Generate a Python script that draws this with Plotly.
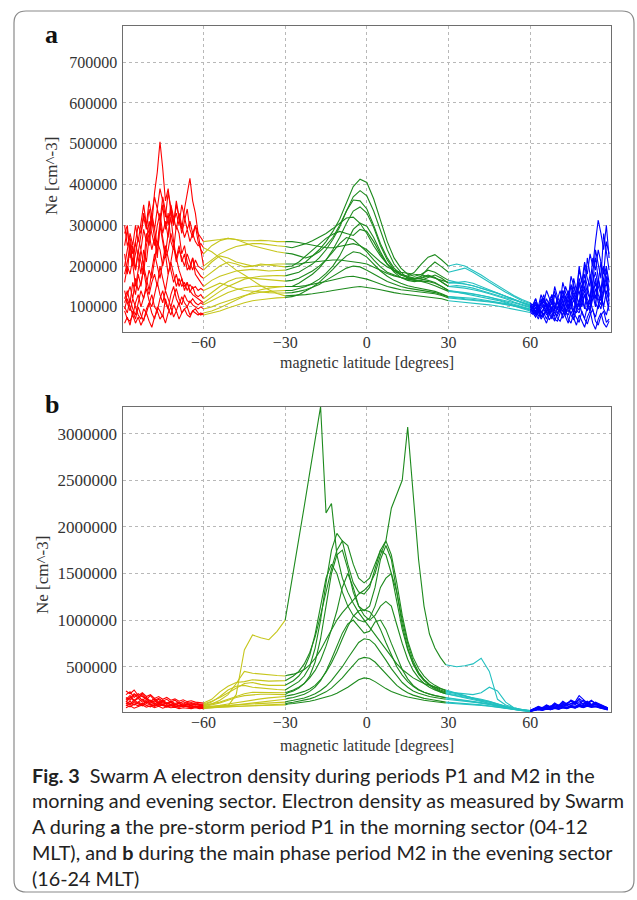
import plotly.graph_objects as go

# ---------------- Panel a (values in 1000 cm^-3) ----------------
A_LAT_S_POLAR = [-89, -88, -87, -86, -85, -84, -83, -82, -81, -80, -79, -78, -77, -76, -75,
                 -74, -73, -72, -71, -70, -69, -68, -67, -66, -65, -64, -63, -62, -61, -60]
A_LAT_S_MID = [-57, -54, -51, -48, -45, -42, -39, -36, -33, -30]
A_LAT_EQ = [-27.5, -25, -22.5, -20, -17.5, -15, -12.5, -10, -7.5, -5, -2.5, 0,
            2.5, 5, 7.5, 10, 12.5, 15, 17.5, 20, 22.5, 25, 27.5, 30]
A_LAT_N_MID = [33, 36, 39, 42, 45, 48, 51, 54, 57, 60]
A_LAT_N_POLAR = [61, 62, 63, 64, 65, 66, 67, 68, 69, 70, 71, 72, 73, 74, 75,
                 76, 77, 78, 79, 80, 81, 82, 83, 84, 85, 86, 87, 88, 89]

A_NE_S_POLAR = [
    [230,180,260,210,150,190,240,200,280,250,310,270,220,300,350,290,330,260,240,300,280,230,250,210,190,220,180,170,160,150],
    [100,85,120,95,80,110,140,120,160,190,170,220,260,240,200,230,180,210,250,220,190,170,150,160,140,130,125,120,115,110],
    [280,300,220,250,190,230,270,320,290,340,300,380,430,505,440,360,390,330,300,350,320,280,310,340,290,270,300,260,240,230],
    [60,75,55,90,70,100,80,65,95,110,85,70,100,90,75,120,95,80,105,90,110,85,95,100,80,90,95,85,80,85],
    [180,210,250,200,230,270,240,290,260,310,280,250,300,330,280,310,270,340,300,360,320,290,340,380,415,360,330,280,240,200],
    [140,110,90,120,100,80,70,95,85,110,130,100,90,120,140,110,95,130,150,120,105,125,110,100,115,105,100,95,100,95],
    [250,290,230,200,260,220,180,240,210,270,330,290,250,310,270,230,280,320,260,220,250,210,230,190,200,220,195,185,175,170],
    [120,140,110,160,130,180,150,200,170,140,190,230,200,170,210,250,220,190,160,180,150,170,140,160,135,150,130,125,130,120],
    [200,240,280,250,300,260,310,350,300,280,330,370,340,390,360,320,380,340,310,330,300,350,320,290,310,280,300,280,270,260],
    [90,70,65,80,60,75,55,70,85,65,50,75,90,70,80,60,85,100,75,90,70,85,95,80,75,90,85,80,85,80],
    [160,200,180,220,190,240,210,180,250,280,240,270,230,300,260,220,240,280,250,210,240,220,200,230,210,190,215,200,195,190],
    [110,130,150,120,170,140,160,190,150,130,160,180,150,200,170,140,180,210,180,150,170,150,160,140,155,145,150,140,145,140],
    [95,120,100,80,110,130,100,120,145,115,100,130,160,130,110,140,120,100,125,145,120,105,130,115,110,120,110,105,110,105],
    [300,250,270,230,260,300,280,330,300,360,320,290,340,310,370,330,300,350,320,290,330,300,270,290,260,280,260,250,255,245],
]
A_NE_S_MID = [
    [165,175,182,188,190,192,190,188,189,190],
    [125,138,150,160,168,172,175,176,177,176],
    [250,262,268,265,258,250,245,240,235,232],
    [90,98,108,118,128,136,142,146,148,150],
    [215,230,240,248,252,255,255,252,250,248],
    [100,108,115,122,128,132,136,138,139,140],
    [185,200,210,205,198,200,205,203,200,198],
    [135,150,162,170,172,170,168,166,165,163],
    [262,265,268,265,262,262,263,262,260,260],
    [85,90,97,104,110,115,118,120,122,123],
    [210,225,220,210,205,200,202,204,205,205],
    [150,158,152,145,140,138,136,135,134,134],
    [115,125,135,142,147,150,151,150,150,150],
    [235,220,205,190,178,165,152,142,133,127],
]
A_NE_EQ = [
    [195,200,210,225,240,260,285,315,355,395,413,405,365,310,260,220,195,180,175,180,190,185,175,165],
    [180,185,195,205,220,240,265,295,335,370,385,372,335,285,240,205,185,170,168,172,178,172,162,150],
    [230,225,220,225,235,250,270,300,335,362,360,340,300,255,220,195,180,172,168,170,176,172,160,150],
    [150,158,168,180,195,215,240,270,305,335,345,330,295,250,215,190,178,175,185,205,222,228,215,200],
    [245,250,255,262,270,280,292,305,318,320,305,280,250,225,205,190,180,175,170,168,165,160,150,140],
    [140,145,150,158,168,182,200,225,258,290,305,298,270,235,205,185,172,165,162,165,172,178,170,158],
    [200,210,225,240,255,268,278,285,280,275,290,285,260,230,205,188,178,172,170,175,195,210,198,185],
    [165,170,178,188,200,215,235,255,270,265,250,235,215,198,185,178,172,168,165,163,162,158,150,140],
    [260,258,255,252,248,245,245,248,252,255,250,240,225,210,198,190,185,182,180,178,175,170,165,160],
    [125,130,138,148,160,175,192,210,225,235,232,222,205,188,175,165,158,152,148,145,142,138,132,125],
    [205,205,208,210,212,213,215,215,213,210,208,205,198,190,182,176,172,168,165,162,158,152,145,138],
    [135,138,142,148,155,165,175,185,195,200,198,190,180,170,162,156,150,146,143,140,138,135,130,125],
    [150,150,152,155,158,162,166,170,174,175,172,168,162,156,150,146,142,140,138,136,134,132,128,122],
    [128,128,130,132,134,137,140,143,146,148,150,148,145,142,138,135,132,130,128,126,125,123,120,115],
]
A_NE_N_MID = [
    [160,156,152,146,140,134,126,118,110,102],
    [148,146,142,138,132,126,120,112,106,100],
    [152,150,146,140,134,128,122,116,110,105],
    [205,200,190,178,165,152,140,128,118,110],
    [138,135,132,128,124,118,112,106,100,95],
    [160,162,158,150,142,134,126,118,110,102],
    [190,195,185,172,160,148,136,125,115,108],
    [136,132,128,124,120,116,110,104,98,92],
    [158,156,152,146,140,133,126,118,111,105],
    [122,120,118,116,113,110,106,102,96,90],
    [136,134,131,128,124,120,115,110,104,98],
    [124,123,121,118,115,112,108,104,99,94],
    [120,119,117,115,112,109,106,102,98,94],
    [113,112,110,108,105,102,98,94,90,86],
]
A_NE_N_POLAR = [
    [95,110,88,120,100,85,105,130,95,115,140,110,90,125,150,120,100,160,130,180,150,120,190,220,170,140,200,160,130],
    [90,80,100,75,95,110,85,70,100,120,90,80,110,140,100,85,130,160,120,95,140,180,130,100,160,210,150,120,90],
    [100,120,95,110,130,100,90,115,140,110,95,120,150,130,105,170,140,190,160,210,180,230,200,260,313,280,240,300,220],
    [100,85,70,90,75,60,80,95,70,65,85,100,75,60,90,70,55,80,65,50,75,90,60,45,70,85,60,50,65],
    [90,100,85,110,95,120,105,90,130,115,100,140,125,110,155,135,120,170,145,200,170,150,220,190,240,210,180,260,230],
    [98,90,105,85,95,110,80,100,90,115,85,105,125,95,110,80,120,140,100,130,110,90,150,120,170,130,100,140,110],
    [105,120,100,130,110,140,120,105,150,125,110,160,135,120,175,150,130,200,160,140,220,180,150,240,200,170,280,230,190],
    [88,80,92,75,85,70,90,78,65,85,95,72,88,100,80,68,95,110,85,72,100,120,90,75,105,130,95,80,110],
    [100,112,96,108,122,100,115,130,108,95,120,140,115,102,130,150,125,110,145,165,135,120,160,185,150,130,170,200,160],
    [85,75,88,70,80,92,68,78,88,72,65,82,95,70,60,85,75,62,90,70,58,80,95,65,55,78,90,62,70],
    [95,105,90,100,115,95,108,120,100,92,112,128,105,95,118,135,110,100,125,150,120,105,140,170,130,115,150,190,140],
    [90,98,85,95,105,88,100,112,92,85,102,118,95,88,110,128,100,92,120,140,110,98,130,160,120,105,140,175,125],
    [92,85,100,88,80,95,105,85,78,98,110,88,80,102,120,92,85,115,135,100,90,125,150,110,95,140,170,120,100],
    [82,90,78,88,95,80,92,100,85,78,95,108,88,80,100,118,92,85,110,130,100,90,120,145,110,95,135,160,115],
]

# ---------------- Panel b (values in 1000 cm^-3) ----------------
B_LAT_S_POLAR = [-88.5, -87, -85.5, -84, -82.5, -81, -79.5, -78, -76.5, -75,
                 -73.5, -72, -70.5, -69, -67.5, -66, -64.5, -63, -61.5, -60]
B_LAT_S_MID = [-57, -54, -51, -48, -45, -42, -39, -36, -33, -30]
B_LAT_EQ = [-29, -27, -25, -23, -21, -19, -17, -15, -13, -11, -9, -7, -5, -3, -1,
            1, 3, 5, 7, 9, 11, 13, 15, 17, 19, 21, 23, 25, 27, 29]
B_LAT_N_MID = [33, 36, 39, 42, 45, 48, 51, 54, 57, 60]
B_LAT_N_POLAR = [61.5, 63, 64.5, 66, 67.5, 69, 70.5, 72, 73.5, 75,
                 76.5, 78, 79.5, 81, 82.5, 84, 85.5, 87, 88.5]

B_NE_S_POLAR = [
    [150,190,140,170,210,160,130,120,150,110,100,120,90,105,80,95,75,70,65,60],
    [120,160,210,180,140,170,130,150,110,130,100,115,95,110,85,100,90,95,85,80],
    [200,230,170,210,180,150,190,140,160,130,150,120,140,110,125,105,115,100,95,90],
    [100,130,90,120,150,110,140,100,120,95,110,85,100,80,90,75,85,70,75,70],
    [170,140,200,160,190,150,130,160,120,140,110,130,105,120,100,115,105,110,100,100],
    [80,110,90,120,100,130,95,110,85,100,80,90,75,85,70,80,65,70,65,60],
    [130,100,140,110,90,120,100,80,110,90,70,95,80,65,85,70,60,75,55,50],
    [90,70,100,80,110,85,70,95,75,90,70,80,65,85,70,75,65,80,70,70],
    [60,80,55,75,90,65,80,60,75,55,70,60,65,50,60,55,50,60,50,55],
    [110,90,120,100,80,105,90,75,95,80,70,85,75,65,80,70,60,70,60,65],
    [240,210,250,190,220,180,200,160,180,150,170,140,155,130,145,125,135,120,115,110],
    [140,170,130,160,120,145,110,135,100,125,95,115,90,105,85,100,90,95,85,85],
]
B_NE_S_MID = [
    [65,70,80,200,680,840,810,790,880,1000],
    [100,140,200,320,450,430,420,410,405,400],
    [120,180,250,290,300,280,270,260,255,250],
    [90,110,140,170,190,200,205,205,200,200],
    [130,170,220,270,320,330,310,300,300,300],
    [70,85,100,115,130,145,155,165,172,180],
    [60,70,80,92,105,115,125,135,142,150],
    [75,80,88,95,100,105,110,113,117,120],
    [60,65,70,75,80,85,90,94,97,100],
    [65,68,72,75,78,81,84,86,88,90],
    [150,230,290,330,340,360,350,345,348,350],
    [100,120,150,180,210,225,225,220,220,220],
]
B_NE_EQ = [
    [1170,1520,1870,2220,2580,2950,3290,2150,2250,1700,1450,1300,1180,1080,1000,930,850,760,680,600,530,470,420,380,350,320,300,280,265,250],
    [410,420,440,470,520,590,680,790,900,1000,1080,1150,1220,1280,1320,1380,1500,1700,1850,2200,2350,2500,3070,2400,1650,1150,850,700,600,520],
    [270,300,340,400,500,700,1000,1400,1750,1930,1850,1600,1400,1300,1280,1350,1550,1750,1850,1700,1400,1050,780,600,480,400,340,300,270,240],
    [220,240,270,320,400,550,800,1150,1500,1700,1750,1550,1300,1150,1100,1150,1350,1650,1800,1650,1300,950,700,530,420,350,300,260,230,210],
    [320,350,400,480,620,850,1150,1450,1600,1500,1300,1150,1050,1000,980,1020,1150,1350,1450,1500,1300,1000,750,560,440,360,310,270,240,220],
    [190,200,215,235,260,300,360,440,540,660,800,930,1040,1100,1110,1090,1020,900,760,620,500,410,340,290,250,225,205,190,180,170],
    [160,170,185,205,235,280,350,450,580,720,860,960,1000,930,860,880,980,1000,900,750,600,470,370,300,255,225,205,190,175,165],
    [130,140,150,165,185,210,245,290,350,420,500,590,680,760,800,790,740,660,570,480,400,330,280,240,215,195,180,170,160,150],
    [110,118,128,140,155,175,200,230,270,320,380,450,520,580,600,590,550,490,420,360,300,255,220,195,175,160,150,140,130,120],
    [100,105,112,120,130,142,156,172,192,215,245,280,320,360,380,370,340,300,265,235,210,190,175,162,150,140,132,125,118,110],
    [370,400,450,530,650,820,1050,1300,1550,1750,1850,1800,1600,1450,1400,1450,1600,1750,1700,1500,1200,900,680,530,430,360,310,280,250,230],
    [230,250,280,320,380,460,570,720,900,1100,1350,1500,1350,1150,1050,1000,1050,1150,1200,1150,950,750,580,460,380,320,280,250,230,210],
]
B_NE_N_MID = [
    [220,190,160,130,100,75,55,40,30,25],
    [500,510,530,590,450,150,90,60,40,30],
    [210,185,160,140,120,95,70,50,35,28],
    [185,165,150,135,115,90,65,45,32,25],
    [200,180,165,150,130,105,75,50,35,28],
    [155,140,128,115,100,82,62,45,32,25],
    [150,138,125,112,98,80,60,42,30,22],
    [140,130,120,108,95,78,58,40,28,22],
    [112,105,98,90,80,68,52,38,28,22],
    [104,98,92,85,76,64,50,36,27,20],
    [215,205,200,220,280,240,120,60,40,30],
    [190,175,160,145,125,100,72,50,35,27],
]
B_NE_N_POLAR = [
    [40,60,45,70,55,80,65,90,110,130,100,150,90,120,80,100,70,60,40],
    [50,40,65,50,80,60,90,75,100,85,120,95,140,110,90,120,100,80,60],
    [45,65,50,75,60,95,70,110,85,100,120,90,105,130,95,115,85,70,50],
    [35,50,40,55,45,65,50,70,60,80,65,90,75,95,80,100,70,55,45],
    [50,70,55,85,65,100,80,120,95,140,110,160,125,100,130,110,90,75,60],
    [40,55,45,60,50,70,60,80,65,85,75,95,80,105,85,95,75,60,50],
    [35,45,38,55,45,60,50,70,58,75,62,85,70,90,75,80,65,55,40],
    [30,40,35,48,40,55,45,62,52,70,58,75,62,80,68,72,60,50,38],
    [32,45,36,50,42,58,48,65,55,72,60,80,65,85,70,78,62,52,40],
    [28,38,32,45,38,52,44,58,50,65,55,72,60,76,64,70,58,48,36],
    [55,75,60,90,70,110,85,130,100,140,120,190,150,110,140,100,80,70,55],
    [45,60,50,70,58,82,66,95,78,110,90,125,100,115,95,105,85,70,55],
]

X_TICKS = [-60, -30, 0, 30, 60]
X_TICK_TEXT = ["\u221260", "\u221230", "0", "30", "60"]
A_Y_TICKS = [100000, 200000, 300000, 400000, 500000, 600000, 700000]
B_Y_TICKS = [500000, 1000000, 1500000, 2000000, 2500000, 3000000]

SEG_COLORS = ["#ff0000", "#c6c61c", "#1d8a1d", "#22c0c0", "#0000ff"]

CAPTION = [
    "<b>Fig. 3</b>\u00a0\u00a0Swarm A electron density during periods P1 and M2 in the",
    "morning and evening sector. Electron density as measured by Swarm",
    "A during <b>a</b> the pre-storm period P1 in the morning sector (04-12",
    "MLT), and <b>b</b> during the main phase period M2 in the evening sector",
    "(16-24 MLT)",
]

W, H = 637, 900
fig = go.Figure()


def add_panel(lats, vals, xa, ya):
    n = len(vals[0])
    for i in range(n):
        for k in range(len(lats)):
            xs = list(lats[k])
            ys = list(vals[k][i])
            if k > 0:
                xs = [lats[k - 1][-1]] + xs
                ys = [vals[k - 1][i][-1]] + ys
            fig.add_trace(go.Scatter(
                x=xs, y=[v * 1000 for v in ys], mode="lines",
                line=dict(color=SEG_COLORS[k], width=1.1),
                xaxis=xa, yaxis=ya, showlegend=False, hoverinfo="skip"))


add_panel([A_LAT_S_POLAR, A_LAT_S_MID, A_LAT_EQ, A_LAT_N_MID, A_LAT_N_POLAR],
          [A_NE_S_POLAR, A_NE_S_MID, A_NE_EQ, A_NE_N_MID, A_NE_N_POLAR], "x", "y")
add_panel([B_LAT_S_POLAR, B_LAT_S_MID, B_LAT_EQ, B_LAT_N_MID, B_LAT_N_POLAR],
          [B_NE_S_POLAR, B_NE_S_MID, B_NE_EQ, B_NE_N_MID, B_NE_N_POLAR], "x2", "y2")


def px(v):
    return v / W


def py(v):
    return 1 - v / H


serif = "Liberation Serif, Times New Roman, serif"
xdom = [px(122.7), px(611)]
common = dict(showline=True, linecolor="#6e6e6e", linewidth=1.4, mirror=True,
              showgrid=True, gridcolor="#b8b8b8", griddash="dot", gridwidth=1,
              zeroline=False, ticks="")
xfont = dict(family=serif, size=16, color="#333333")

fig.update_layout(
    width=W, height=H, margin=dict(l=0, r=0, t=0, b=0),
    paper_bgcolor="white", plot_bgcolor="white", showlegend=False,
    font=dict(family=serif, color="#333333"),
    xaxis=dict(domain=xdom, range=[-89.7, 89.7], tickvals=X_TICKS, ticktext=X_TICK_TEXT,
               anchor="y", tickfont=xfont, ticklabelstandoff=-4, **common),
    yaxis=dict(domain=[py(331.5), py(26)], range=[39600, 788700], tickvals=A_Y_TICKS,
               ticktext=[str(v) for v in A_Y_TICKS], anchor="x",
               tickfont=dict(family=serif, size=16, color="#333333"),
               ticklabelstandoff=1, **common),
    xaxis2=dict(domain=xdom, range=[-89.7, 89.7], tickvals=X_TICKS, ticktext=X_TICK_TEXT,
                anchor="y2", tickfont=xfont, ticklabelstandoff=-4, **common),
    yaxis2=dict(domain=[py(712), py(407)], range=[14000, 3286000], tickvals=B_Y_TICKS,
                ticktext=[str(v) for v in B_Y_TICKS], anchor="x2",
                tickfont=dict(family=serif, size=17, color="#333333"),
                ticklabelstandoff=1, **common),
)

ann = []
ann.append(dict(text="<b>a</b>", x=px(52), y=py(35), font=dict(family=serif, size=26, color="#111")))
ann.append(dict(text="<b>b</b>", x=px(52), y=py(405), font=dict(family=serif, size=26, color="#111")))
ann.append(dict(text="Ne [cm^-3]", x=px(51), y=py(176), textangle=-90,
                font=dict(family=serif, size=17, color="#333")))
ann.append(dict(text="Ne [cm^-3]", x=px(42), y=py(575), textangle=-90,
                font=dict(family=serif, size=17, color="#333")))
ann.append(dict(text="magnetic latitude [degrees]", x=px(367), y=py(363),
                font=dict(family=serif, size=16, color="#333")))
ann.append(dict(text="magnetic latitude [degrees]", x=px(367), y=py(746),
                font=dict(family=serif, size=16, color="#333")))
for a in ann:
    a.update(xref="paper", yref="paper", showarrow=False, xanchor="center", yanchor="middle")

cap_y = [774.5, 800, 826, 851.5, 877.5]
for t, yy in zip(CAPTION, cap_y):
    ann.append(dict(text=t, x=px(30), y=py(yy), xref="paper", yref="paper", showarrow=False,
                    xanchor="left", yanchor="middle",
                    font=dict(family="Lato", size=19.8, color="#222")))
fig.update_layout(annotations=ann)

# rounded outer frame
L, R, T, B, r = 14, 634, 11, 892, 12
path = (f"M {px(L + r)},{py(T)} L {px(R - r)},{py(T)} Q {px(R)},{py(T)} {px(R)},{py(T + r)} "
        f"L {px(R)},{py(B - r)} Q {px(R)},{py(B)} {px(R - r)},{py(B)} "
        f"L {px(L + r)},{py(B)} Q {px(L)},{py(B)} {px(L)},{py(B - r)} "
        f"L {px(L)},{py(T + r)} Q {px(L)},{py(T)} {px(L + r)},{py(T)} Z")
fig.add_shape(type="path", path=path, xref="paper", yref="paper",
              line=dict(color="#8a8a8a", width=1.2), layer="above")

fig.write_html("out.html", config={"displayModeBar": False},
               post_script="document.body.style.margin='0px';")
